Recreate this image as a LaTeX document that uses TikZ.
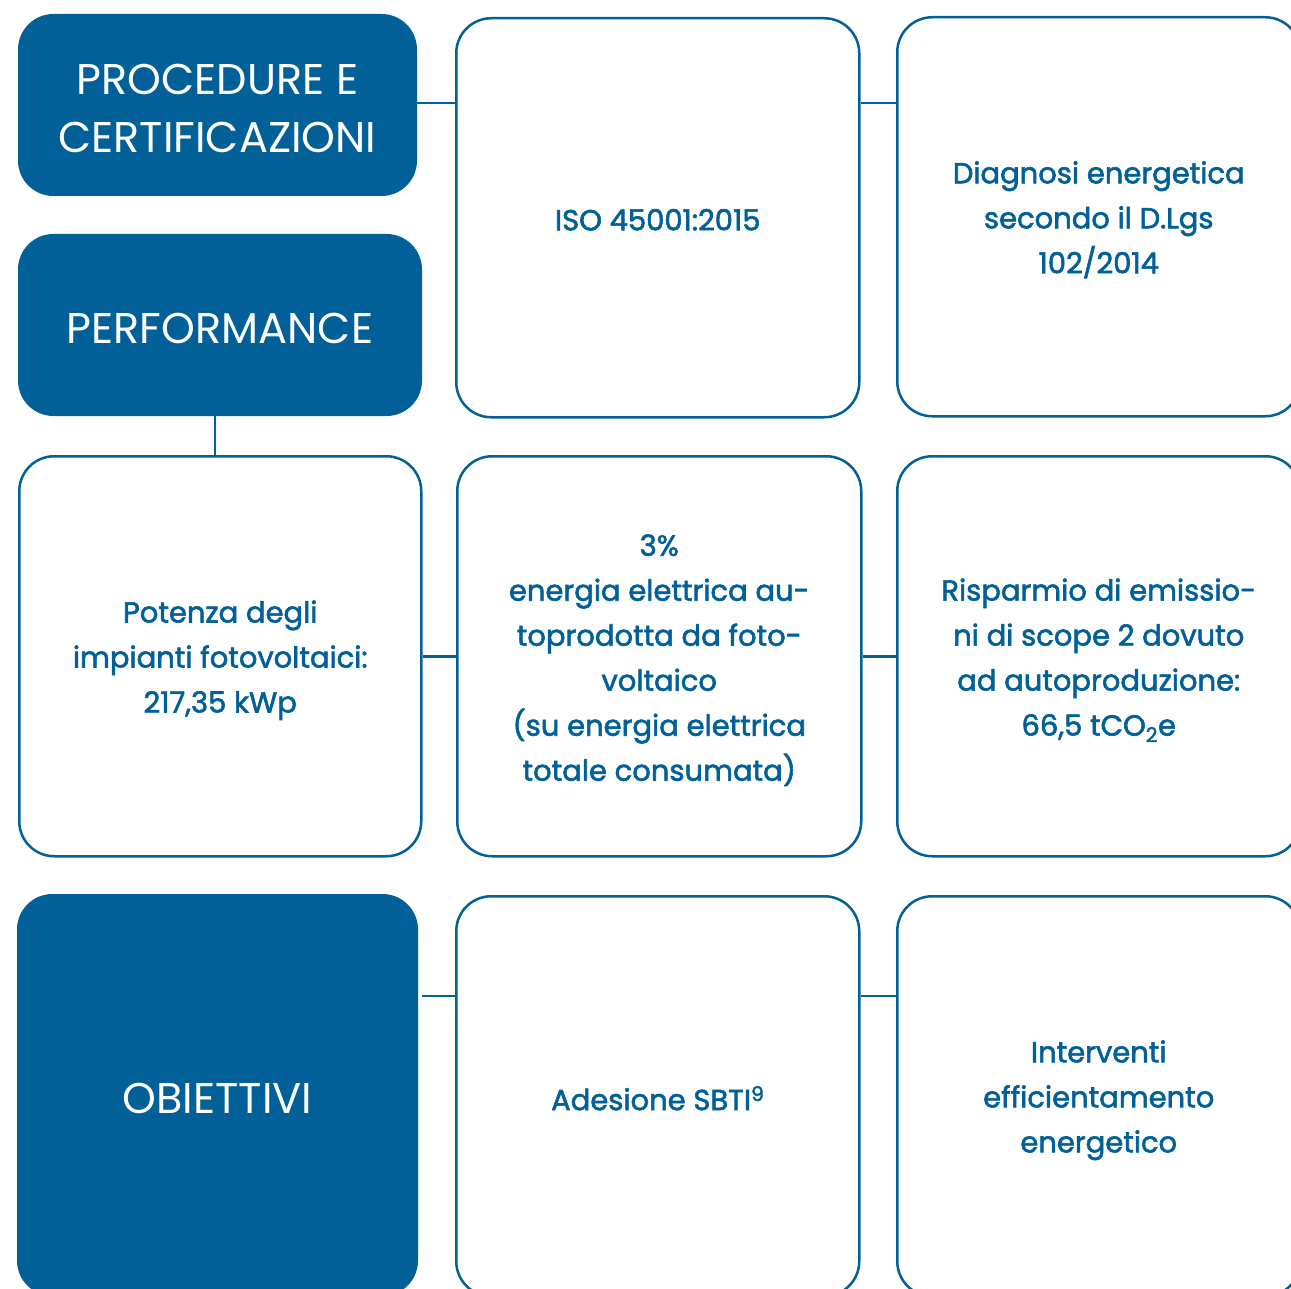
\documentclass[tikz,border=0pt]{standalone}
\usepackage{fontspec}
\setmainfont{Poppins}
\newfontfamily\medfont{Poppins}[FakeBold=2]
\definecolor{brand}{RGB}{2,96,152}
\begin{document}
\begin{tikzpicture}[x=1pt,y=-1pt,
  darkbox/.style={fill=brand, draw=brand, line width=1pt, rounded corners=35pt, inner sep=0pt, anchor=north west},
  darktext/.style={text=white, align=center, font=\fontsize{43}{58}\selectfont, inner sep=0pt},
  whitebox/.style={draw=brand, line width=2.5pt, rounded corners=35pt, fill=white, inner sep=0pt, anchor=north west},
  boxtext/.style={text=brand, align=center, font=\medfont\fontsize{29}{45}\selectfont, inner sep=0pt},
  link/.style={draw=brand, line width=2.5pt}]
\useasboundingbox (0,0) rectangle (1291,1289);
\clip (0,0) rectangle (1291,1289);
% boxes
\node[darkbox, minimum width=398pt, minimum height=181pt] (proc) at (18,14) {};
\node[darkbox, minimum width=403pt, minimum height=181pt] (perf) at (18,234) {};
\node[darkbox, minimum width=400pt, minimum height=401pt] (obj) at (17,894) {};
\node[whitebox, minimum width=403pt, minimum height=399pt] (iso) at (455,17) {};
\node[whitebox, minimum width=403pt, minimum height=399pt] (diag) at (896,16) {};
\node[whitebox, minimum width=402pt, minimum height=400pt] (pot) at (18,455) {};
\node[whitebox, minimum width=404pt, minimum height=400pt] (mid) at (456,455) {};
\node[whitebox, minimum width=403pt, minimum height=400pt] (ris) at (896,455) {};
\node[whitebox, minimum width=403pt, minimum height=400pt] (ades) at (455,895) {};
\node[whitebox, minimum width=403pt, minimum height=400pt] (intv) at (896,895) {};
% texts
\node[darktext] (procT) at ([yshift=-3]proc.center) {PROCEDURE E\\CERTIFICAZIONI};
\node[darktext] (perfT) at ([yshift=-3]perf.center) {PERFORMANCE};
\node[darktext] (objT) at ([yshift=-3]obj.center) {OBIETTIVI};
\node[boxtext] (isoT) at ([yshift=-2]iso.center) {ISO 45001:2015};
\node[boxtext] (diagT) at ([yshift=-3]diag.center) {Diagnosi energetica\\secondo il D.Lgs\\102/2014};
\node[boxtext] (potT) at ([yshift=-4]pot.center) {Potenza degli\\impianti fotovoltaici:\\217,35 kWp};
\node[boxtext] (midT) at ([yshift=-4]mid.center) {3\%\\energia elettrica au-\\toprodotta da foto-\\voltaico\\(su energia elettrica\\totale consumata)};
\node[boxtext] (risT) at ([yshift=-4]ris.center) {Risparmio di emissio-\\ni di scope 2 dovuto\\ad autoproduzione:\\66,5 tCO\textsubscript{2}e};
\node[boxtext] (adesT) at ([yshift=-2]ades.center) {Adesione SBTI\textsuperscript{9}};
\node[boxtext] (intvT) at ([yshift=-4]intv.center) {Interventi\\efficientamento\\energetico};
% connectors
\coordinate (r1) at ([yshift=-86]iso.north west);
\draw[link] (proc.east |- r1) -- (r1);
\draw[link] (iso.east |- r1) -- (diag.west |- r1);
\coordinate (c1) at ([xshift=-5]perf.south);
\draw[link] (c1) -- (c1 |- pot.north);
\draw[link] (pot.east) -- (mid.west);
\draw[link] (mid.east) -- (ris.west);
\coordinate (r3) at ([yshift=-101]ades.north west);
\draw[link] ([xshift=4]obj.east |- r3) -- (r3);
\draw[link] (ades.east |- r3) -- (intv.west |- r3);
\end{tikzpicture}
\end{document}
